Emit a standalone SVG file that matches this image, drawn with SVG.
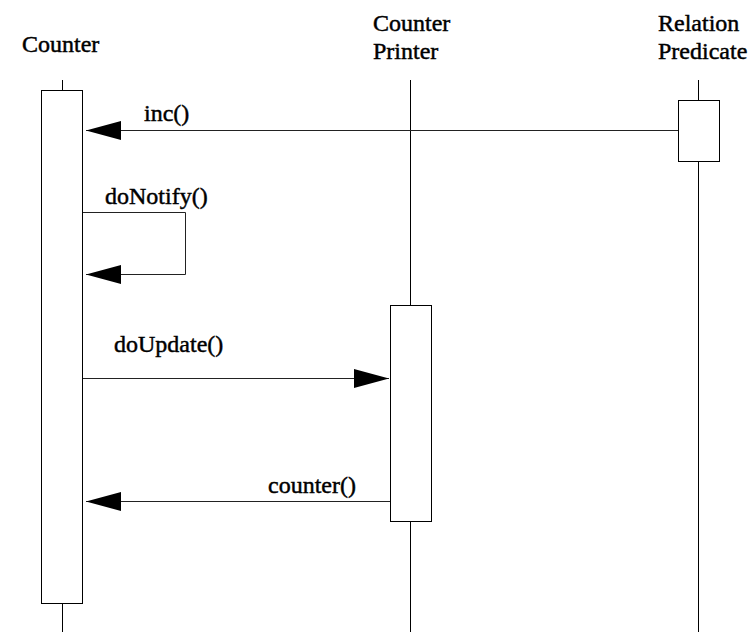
<svg xmlns="http://www.w3.org/2000/svg" width="751" height="632" viewBox="0 0 751 632">
  <style>
    text { font-family: 'Liberation Serif', 'Times New Roman', Times, serif; font-size: 24px; fill: #000; stroke: #000; stroke-width: 0.45; }
    .life { stroke: #000; stroke-width: 1; fill: none; }
    .act { stroke: #000; stroke-width: 1; fill: #fff; }
    .msg { stroke: #222; stroke-width: 1; fill: none; }
  </style>
  <defs>
    <marker id="head" viewBox="0 0 35 19" refX="35" refY="9.5" markerWidth="35" markerHeight="19" markerUnits="userSpaceOnUse" orient="auto">
      <path d="M0,0 L35,9.5 L0,19 Z" fill="#000"/>
    </marker>
  </defs>
  <rect width="751" height="632" fill="#fff"/>

  <!-- object: Counter -->
  <g id="counter">
    <text x="22" y="52">Counter</text>
    <line class="life" x1="62.5" y1="80" x2="62.5" y2="90"/>
    <line class="life" x1="62.5" y1="604" x2="62.5" y2="632"/>
    <rect class="act" x="41.5" y="90.5" width="41" height="513"/>
  </g>

  <!-- object: Counter Printer -->
  <g id="counter-printer">
    <text x="373" y="31">Counter</text>
    <text x="373" y="59">Printer</text>
    <line class="life" x1="410.5" y1="80" x2="410.5" y2="305"/>
    <line class="life" x1="410.5" y1="521" x2="410.5" y2="632"/>
    <rect class="act" x="390.5" y="305.5" width="41" height="216"/>
  </g>

  <!-- object: Relation Predicate -->
  <g id="relation-predicate">
    <text x="658" y="31">Relation</text>
    <text x="658" y="59">Predicate</text>
    <line class="life" x1="698.5" y1="80" x2="698.5" y2="100"/>
    <line class="life" x1="698.5" y1="162" x2="698.5" y2="632"/>
    <rect class="act" x="678.5" y="100.5" width="41" height="61"/>
  </g>

  <!-- messages between lifelines -->
  <g id="messages">
    <line class="msg" x1="678" y1="130.5" x2="86" y2="130.5" marker-end="url(#head)"/>
    <text x="144" y="121">inc()</text>

    <polyline class="msg" points="83,212.5 185.5,212.5 185.5,274.5 86,274.5" marker-end="url(#head)"/>
    <text x="105" y="204">doNotify()</text>

    <line class="msg" x1="83" y1="378.5" x2="389" y2="378.5" marker-end="url(#head)"/>
    <text x="114" y="352">doUpdate()</text>

    <line class="msg" x1="390" y1="501.5" x2="86" y2="501.5" marker-end="url(#head)"/>
    <text x="268" y="493">counter()</text>
  </g>
</svg>
